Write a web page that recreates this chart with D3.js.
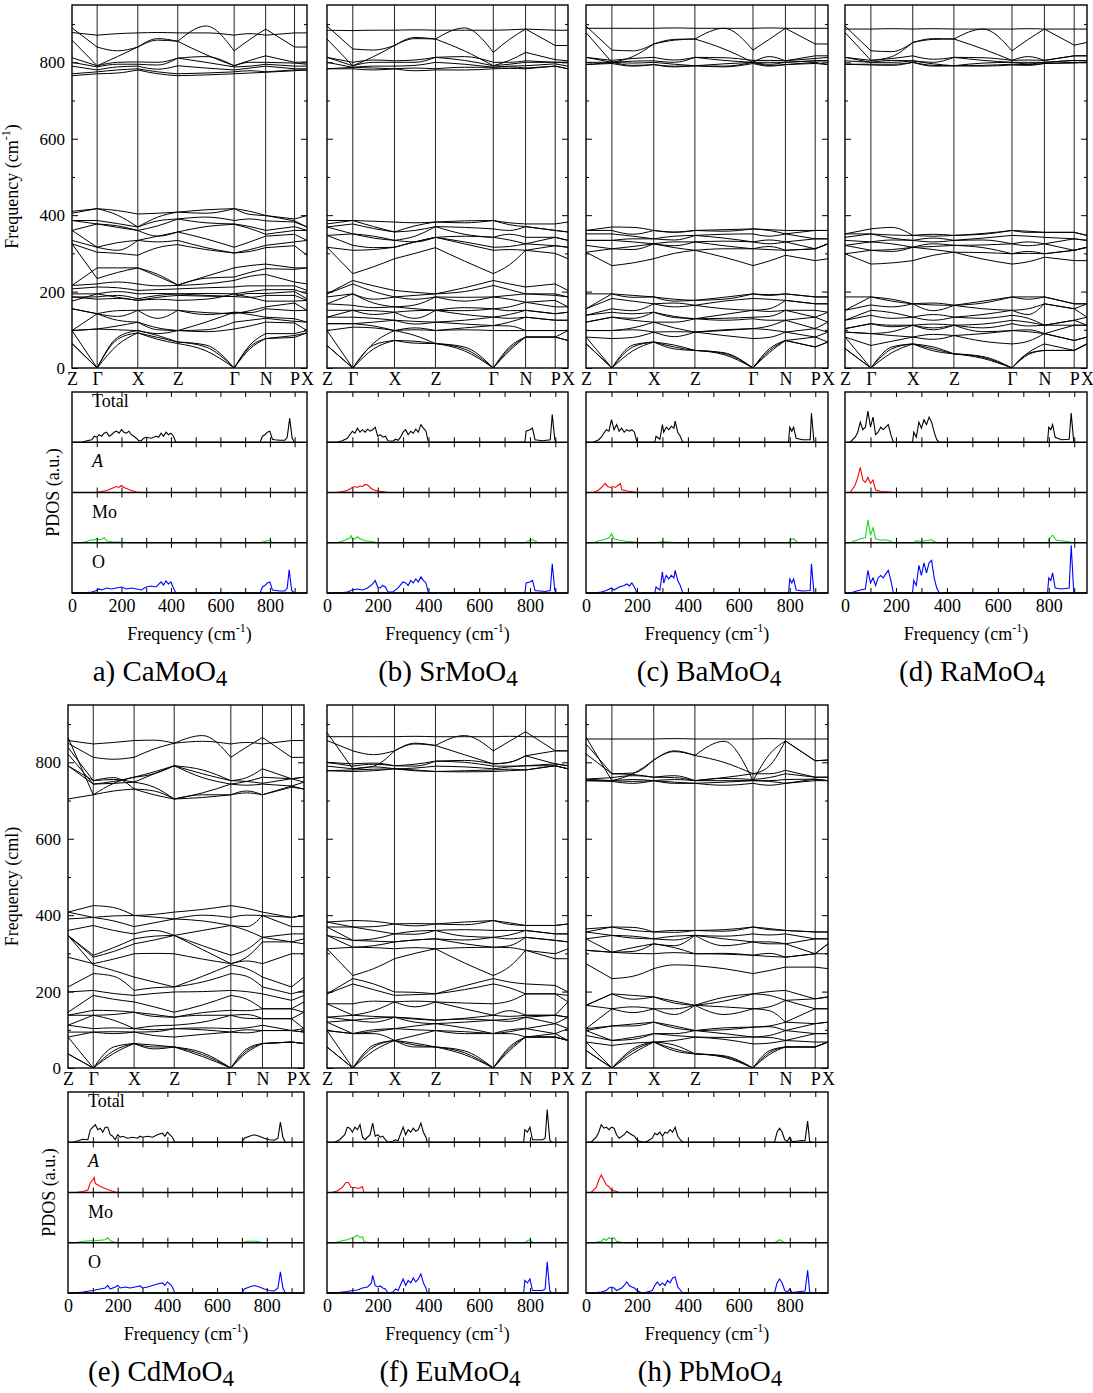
<!DOCTYPE html>
<html><head><meta charset="utf-8">
<script src="https://cdn.jsdelivr.net/npm/d3@7"></script>
<style>
body{margin:0;background:#fff}
svg{display:block}
text{font-family:"Liberation Serif","Times New Roman",serif;fill:#000}
</style>
</head><body>
<svg id="c" width="1093" height="1393"></svg>
<script>
// ---------- k-path ----------
const kLabels = ["Z","Γ","X","Z","Γ","N","P","X"];
const kTicks  = [0, 0.107, 0.28, 0.45, 0.69, 0.824, 0.947, 1];
// band values are given at: Z, Γ, mid(Γ-X), X, mid(X-Z), Z, mid(Z-Γ), Γ, mid(Γ-N), N, P, X
const kNodes  = [0, 0.107, 0.1935, 0.28, 0.365, 0.45, 0.57, 0.69, 0.757, 0.824, 0.947, 1];
const kSegments = [[0,1],[1,2,3],[3,4,5],[5,6,7],[7,8,9],[9,10],[10,11]];
const freqTicksMajor = [0,200,400,600,800];
const freqTicksMinor = [100,300,500,700,900];
const pdosTicks = [100,200,300,400,500,600,700,800,900];
const pdosTickLabels = [0,200,400,600,800];
const pdosParts = ["Total","A","Mo","O"];

// ---------- dispersion data (cm^-1) ----------
const caBands = [
 [878,871,875,877,878,877,877,871,875,871,877,877],
 [890,840,830,840,858,855,895,830,860,887,840,840],
 [858,791,815,840,862,855,820,791,805,817,800,801],
 [812,791,800,801,800,811,815,791,800,800,798,795],
 [800,788,795,795,793,811,800,788,790,795,790,790],
 [790,780,788,790,782,791,785,780,785,790,783,783],
 [770,775,780,783,775,770,772,775,778,775,780,780],
 [765,770,772,780,770,765,767,770,772,774,778,780],
 [410,417,412,403,405,408,414,417,410,399,390,399],
 [405,417,400,369,395,408,405,417,402,399,385,369],
 [386,386,378,369,385,390,395,386,390,385,382,369],
 [386,377,368,360,372,390,380,377,370,360,370,360],
 [360,377,372,360,345,356,370,376,365,350,360,360],
 [360,316,328,334,345,356,338,316,330,345,350,334],
 [334,316,308,334,330,334,315,301,310,321,330,334],
 [325,303,300,295,315,323,310,301,305,315,320,295],
 [325,234,250,262,245,217,240,262,268,272,262,262],
 [216,262,262,262,240,217,235,238,250,260,258,262],
 [216,220,225,220,215,216,220,229,240,245,225,220],
 [207,212,210,203,205,207,210,212,215,215,215,203],
 [194,194,200,194,195,194,195,194,200,205,205,194],
 [186,186,190,181,190,194,190,187,195,195,200,181],
 [186,180,182,177,185,190,188,187,185,190,190,177],
 [175,194,185,177,180,177,180,194,185,175,175,177],
 [155,142,150,151,152,151,145,142,150,160,170,151],
 [155,142,135,151,130,151,140,146,145,155,150,151],
 [98,142,125,120,105,98,120,146,140,133,129,120],
 [98,102,110,120,100,98,100,120,125,130,122,120],
 [98,102,100,98,90,98,95,102,110,120,118,98],
 [98,0,80,98,85,68,60,0,60,90,90,98],
 [64,0,75,92,80,68,55,0,55,77,85,92],
 [64,0,60,92,75,64,45,0,50,77,80,92]
];
const srBands = [
 [884,883,884,884,885,884,884,884,885,887,884,884],
 [895,835,832,844,862,861,890,826,860,887,844,844],
 [861,791,815,844,865,861,830,791,805,826,807,804],
 [813,800,806,804,806,813,815,800,800,804,800,800],
 [813,791,800,800,800,813,805,791,795,800,800,800],
 [800,787,790,790,792,800,795,787,790,791,796,790],
 [783,787,785,783,785,783,787,787,788,785,790,783],
 [783,783,780,783,778,780,780,783,784,783,790,783],
 [386,386,384,382,380,382,385,386,380,377,377,382],
 [377,386,370,356,372,382,380,386,375,370,360,356],
 [369,377,365,356,360,370,368,364,360,370,360,356],
 [369,351,345,334,345,370,350,342,350,342,342,334],
 [347,351,340,334,330,342,345,342,335,325,342,334],
 [347,321,315,316,330,342,330,316,318,325,320,316],
 [316,308,310,316,330,342,325,308,310,308,320,316],
 [316,247,265,286,300,315,280,247,270,308,300,286],
 [194,229,215,203,198,194,210,229,220,212,220,203],
 [194,220,200,186,190,194,200,216,205,194,194,186],
 [186,194,180,186,180,186,185,186,190,194,190,186],
 [168,194,170,160,165,186,175,186,180,172,177,160],
 [168,164,158,160,155,151,158,155,160,172,160,160],
 [151,151,150,146,150,151,150,155,150,151,142,146],
 [133,151,140,146,130,151,140,133,140,151,142,146],
 [133,133,130,125,122,120,125,133,130,133,125,125],
 [116,116,120,125,115,120,115,111,120,133,125,125],
 [116,116,110,98,105,98,105,111,110,98,98,98],
 [98,107,105,98,100,98,100,98,98,98,98,98],
 [98,0,65,98,85,64,55,0,55,81,81,98],
 [59,0,60,72,70,64,50,0,50,81,81,72],
 [59,0,50,72,65,64,45,0,45,81,81,72]
];
const baBands = [
 [889,889,889,889,890,889,889,889,890,889,889,889],
 [895,832,830,848,858,861,889,832,860,889,848,848],
 [878,800,815,848,860,861,835,800,815,804,817,817],
 [813,805,810,813,806,813,812,805,805,804,810,813],
 [813,800,803,804,800,813,805,800,800,800,804,804],
 [800,800,798,800,795,791,796,800,795,800,804,804],
 [794,800,792,794,790,791,790,800,792,794,800,794],
 [794,797,790,794,788,791,788,797,790,794,797,794],
 [360,369,368,360,355,360,362,364,362,360,360,360],
 [360,360,350,360,356,360,358,364,360,351,360,360],
 [351,351,345,338,345,347,350,351,345,351,338,338],
 [334,334,338,338,335,347,340,330,335,330,338,338],
 [334,334,330,325,330,330,332,330,325,330,312,325],
 [321,312,318,325,320,330,320,312,318,308,312,325],
 [303,312,310,325,315,308,312,312,310,308,312,325],
 [303,268,275,286,300,308,290,268,280,295,281,286],
 [194,194,190,186,180,177,185,194,192,194,186,186],
 [155,194,185,186,175,177,180,194,190,194,186,186],
 [155,182,175,168,170,164,175,182,180,177,168,168],
 [138,155,150,168,160,164,155,151,155,177,168,168],
 [138,146,142,146,135,129,140,151,148,151,151,146],
 [120,133,130,146,132,129,130,133,135,151,133,146],
 [120,133,125,120,120,129,125,129,125,125,133,120],
 [98,98,105,120,105,94,100,103,110,125,103,120],
 [98,98,100,94,95,94,98,103,100,94,103,94],
 [81,77,80,94,82,94,85,77,80,94,81,94],
 [81,0,60,68,60,46,40,0,50,72,81,68],
 [64,0,55,68,55,46,38,0,45,72,55,68],
 [64,0,45,68,50,46,35,0,40,72,55,68]
];
const raBands = [
 [887,887,888,887,888,887,887,887,888,887,887,887],
 [895,830,828,852,860,861,887,830,860,887,845,852],
 [878,805,815,852,862,861,835,805,815,805,817,817],
 [813,805,810,817,808,813,812,805,806,805,817,817],
 [813,800,805,804,800,813,805,800,800,800,805,804],
 [804,800,800,804,796,791,798,800,796,800,805,804],
 [795,795,795,800,792,791,792,795,794,797,800,800],
 [795,793,792,800,790,791,790,793,792,797,798,800],
 [351,364,368,347,350,347,352,360,358,355,355,347],
 [351,351,348,347,345,347,350,360,355,355,355,347],
 [342,351,340,334,340,334,340,347,345,342,338,334],
 [334,330,335,334,330,334,335,325,330,325,338,334],
 [321,330,325,316,325,321,322,325,320,325,308,316],
 [321,308,310,316,318,321,315,299,305,299,308,316],
 [299,308,305,316,310,303,302,299,300,299,308,316],
 [299,272,275,281,295,303,285,272,278,290,281,281],
 [186,186,180,168,170,164,175,186,186,186,168,168],
 [151,186,175,168,165,164,170,186,180,186,168,168],
 [151,165,160,168,150,164,155,151,155,168,155,168],
 [125,151,145,133,140,133,140,151,140,168,155,133],
 [125,138,130,133,125,133,130,138,130,112,125,133],
 [103,116,112,112,115,112,115,125,120,112,125,112],
 [103,116,108,112,105,112,105,116,110,112,112,112],
 [94,90,95,112,100,112,95,98,100,90,112,112],
 [94,90,85,81,88,85,90,98,95,90,72,81],
 [81,59,70,81,75,85,70,63,70,90,72,81],
 [81,0,55,63,55,37,30,0,40,63,46,63],
 [51,0,50,63,50,37,28,0,38,46,46,63],
 [51,0,40,63,45,37,25,0,35,46,46,63]
];
const cdBands = [
 [857,848,852,857,858,850,855,848,852,848,857,857],
 [865,715,745,761,775,791,760,743,750,761,757,761],
 [850,813,808,813,835,850,870,813,840,865,813,813],
 [839,752,755,748,770,791,780,752,760,783,757,748],
 [822,743,750,761,770,791,770,752,750,745,757,761],
 [791,752,760,730,725,704,720,743,740,743,738,730],
 [791,743,745,748,735,704,715,715,725,715,738,748],
 [704,715,725,730,715,704,708,715,720,715,735,730],
 [408,425,420,399,402,408,415,425,418,408,394,399],
 [408,394,398,399,395,390,400,394,400,399,394,399],
 [390,394,385,370,380,390,385,373,370,399,370,370],
 [360,373,360,351,360,347,360,373,360,342,351,351],
 [347,295,315,338,345,347,320,295,310,342,330,338],
 [347,290,305,325,335,347,310,273,290,330,330,325],
 [290,273,285,299,300,299,285,273,280,273,299,299],
 [347,270,255,238,225,212,240,270,260,238,212,238],
 [212,247,240,203,210,212,225,247,240,212,194,203],
 [199,203,195,190,195,199,200,203,200,194,177,190],
 [146,190,180,173,160,146,165,190,180,155,155,173],
 [138,151,150,146,140,133,145,151,150,155,155,146],
 [138,138,140,146,135,133,138,138,140,129,129,146],
 [112,138,125,103,110,112,120,138,130,129,129,103],
 [112,103,105,103,100,103,105,103,105,112,98,103],
 [94,94,95,94,95,103,100,94,100,98,98,94],
 [81,94,90,94,85,81,88,94,92,98,98,94],
 [81,0,55,64,60,55,40,0,50,64,68,64],
 [37,0,45,64,55,55,35,0,45,64,68,64],
 [37,0,38,64,50,55,30,0,40,64,68,64]
];
const euBands = [
 [867,867,867,867,868,867,867,867,868,867,867,867],
 [878,783,790,830,848,844,870,830,855,880,830,830],
 [857,830,820,830,850,844,820,796,800,817,830,830],
 [800,796,798,791,795,803,805,796,800,817,796,791],
 [800,790,795,791,790,803,800,790,790,791,796,791],
 [790,783,788,783,785,790,788,783,788,791,791,783],
 [778,780,782,783,780,776,778,780,782,780,791,783],
 [778,776,778,783,778,776,775,776,778,780,791,783],
 [382,386,384,377,378,377,382,386,380,373,373,377],
 [382,369,370,377,372,377,375,386,376,373,373,377],
 [369,369,360,351,358,360,362,360,360,360,351,351],
 [369,334,338,351,350,360,345,342,348,360,351,351],
 [347,334,332,330,335,338,335,342,338,342,334,330],
 [347,316,320,330,335,338,325,316,320,342,334,330],
 [312,316,315,312,315,312,315,316,315,308,299,312],
 [312,242,260,286,300,312,275,242,265,308,286,286],
 [194,234,220,199,198,194,215,234,225,220,216,199],
 [194,220,205,190,192,194,205,220,210,194,194,190],
 [168,168,175,173,175,173,170,168,175,194,194,173],
 [168,138,150,173,160,173,155,138,150,138,138,173],
 [133,138,135,133,130,125,130,138,135,138,138,133],
 [133,125,130,133,128,125,128,125,128,133,138,133],
 [120,125,120,133,120,116,120,125,122,133,116,133],
 [120,90,100,103,110,116,105,90,100,103,116,103],
 [98,90,95,103,100,98,95,90,95,103,90,103],
 [98,90,90,72,85,98,90,90,90,81,90,72],
 [98,0,60,72,65,55,45,0,55,81,81,72],
 [55,0,55,72,60,55,40,0,50,81,81,72],
 [55,0,45,72,55,55,35,0,45,81,81,72]
];
const pbBands = [
 [861,861,861,861,862,861,861,861,862,861,861,861],
 [866,752,770,806,830,818,855,752,820,856,804,806],
 [848,770,772,806,828,818,800,770,790,856,804,806],
 [822,770,768,761,765,752,760,770,770,779,761,761],
 [756,760,765,761,760,752,758,755,760,770,761,761],
 [756,752,755,752,755,752,752,752,752,755,756,752],
 [752,752,750,752,748,745,748,752,750,745,756,752],
 [752,750,745,752,745,745,740,745,740,745,752,752],
 [364,369,368,356,360,360,362,369,365,360,356,356],
 [356,369,360,356,355,360,358,369,362,360,356,356],
 [356,347,345,338,345,347,345,351,348,351,338,338],
 [338,347,340,338,335,347,338,330,330,325,338,338],
 [338,303,315,325,320,347,320,330,325,325,299,325],
 [308,303,305,325,315,299,300,295,300,290,299,325],
 [308,303,300,299,302,299,298,295,292,290,299,299],
 [273,234,240,260,270,268,260,247,255,264,264,260],
 [164,194,190,186,175,164,185,194,200,203,181,186],
 [164,194,180,186,170,164,175,194,190,177,181,186],
 [164,155,160,155,155,164,160,155,160,177,155,155],
 [103,155,145,155,140,164,140,155,150,120,155,155],
 [103,110,115,120,110,98,105,107,110,120,116,120],
 [98,110,110,120,105,98,100,107,108,98,116,120],
 [98,72,80,90,90,98,90,81,85,98,90,90],
 [85,72,75,90,85,81,80,81,80,72,90,90],
 [68,59,65,68,72,81,75,63,65,72,68,68],
 [68,0,50,68,60,37,32,0,45,55,55,68],
 [46,0,45,68,50,37,30,0,40,55,55,68],
 [46,0,38,68,45,37,28,0,35,55,55,68]
];

// ---------- PDOS data: [frequency (cm^-1), relative density] ----------
const caTotal = [[0,0],[40,0],[60,0.03],[80,0.05],[90,0.12],[100,0.1],[110,0.15],[120,0.12],[130,0.18],[140,0.2],[150,0.12],[160,0.15],[170,0.2],[180,0.22],[190,0.18],[200,0.25],[210,0.2],[220,0.18],[230,0.22],[240,0.15],[250,0.12],[260,0.08],[270,0.03],[280,0.03],[290,0.08],[300,0.1],[320,0.08],[340,0.12],[350,0.1],[360,0.18],[370,0.12],[380,0.2],[390,0.15],[400,0.18],[410,0.12],[420,0],[760,0],[770,0.12],[780,0.15],[790,0.2],[800,0.22],[810,0.06],[820,0.05],[840,0.04],[860,0.04],[870,0.1],[880,0.48],[890,0.08],[900,0]];
const caA = [[0,0],[100,0],[120,0.02],[140,0.04],[160,0.08],[170,0.1],[180,0.12],[190,0.1],[200,0.14],[210,0.1],[220,0.08],[240,0.04],[260,0.01],[280,0]];
const caMo = [[0,0],[40,0],[60,0.03],[80,0.06],[90,0.05],[100,0.08],[110,0.06],[120,0.07],[130,0.1],[140,0.04],[160,0.02],[200,0.01],[250,0],[760,0],[780,0.03],[790,0.04],[800,0.05],[810,0.01],[820,0]];
const caO = [[0,0],[40,0],[80,0.02],[100,0.05],[110,0.08],[120,0.06],[140,0.1],[160,0.08],[180,0.1],[200,0.12],[220,0.08],[240,0.1],[260,0.08],[280,0.06],[300,0.12],[320,0.14],[340,0.12],[360,0.22],[370,0.16],[380,0.24],[390,0.18],[400,0.22],[410,0.1],[420,0],[760,0],[770,0.12],[780,0.15],[790,0.2],[800,0.22],[810,0.06],[840,0.04],[860,0.04],[870,0.1],[878,0.46],[888,0.05],[900,0]];

const srTotal = [[0,0],[40,0],[60,0.03],[80,0.08],[90,0.15],[100,0.22],[110,0.18],[120,0.28],[130,0.2],[140,0.25],[150,0.2],[160,0.26],[170,0.22],[180,0.25],[190,0.3],[200,0.12],[210,0.15],[220,0.1],[230,0.12],[240,0.03],[260,0.02],[270,0.06],[280,0.04],[290,0.1],[300,0.2],[310,0.25],[320,0.15],[330,0.22],[340,0.18],[350,0.26],[360,0.2],[370,0.35],[380,0.28],[390,0.22],[400,0],[780,0],[785,0.22],[800,0.25],[810,0.28],[820,0.05],[850,0.03],[880,0.05],[888,0.55],[898,0.05],[905,0]];
const srA = [[0,0],[40,0],[80,0.04],[100,0.1],[110,0.12],[120,0.1],[130,0.13],[140,0.12],[150,0.16],[160,0.15],[170,0.1],[180,0.06],[200,0.03],[230,0.01],[240,0]];
const srMo = [[0,0],[40,0],[70,0.05],[90,0.1],[95,0.14],[100,0.07],[110,0.08],[120,0.12],[130,0.08],[150,0.04],[180,0.02],[200,0],[780,0],[800,0.05],[810,0.06],[830,0.01],[840,0]];
const srO = [[0,0],[40,0],[80,0.02],[100,0.06],[120,0.08],[140,0.06],[160,0.1],[180,0.18],[190,0.25],[200,0.12],[210,0.1],[220,0.15],[230,0.12],[240,0.02],[260,0.02],[280,0.1],[300,0.22],[310,0.2],[320,0.15],[330,0.25],[340,0.2],[350,0.28],[360,0.22],[370,0.32],[380,0.25],[390,0.2],[400,0],[780,0],[785,0.2],[800,0.22],[810,0.25],[820,0.05],[860,0.03],[880,0.05],[888,0.58],[898,0.05],[905,0]];

const baTotal = [[0,0],[30,0],[50,0.05],[60,0.1],[70,0.18],[80,0.25],[90,0.22],[100,0.45],[110,0.25],[120,0.35],[130,0.22],[140,0.28],[150,0.2],[160,0.25],[170,0.22],[180,0.25],[190,0.2],[200,0],[270,0],[275,0.12],[290,0.06],[300,0.35],[305,0.2],[315,0.3],[325,0.25],[335,0.32],[345,0.28],[350,0.42],[360,0.2],[370,0.12],[380,0],[795,0],[800,0.3],[808,0.22],[815,0.3],[825,0.08],[850,0.05],[880,0.05],[885,0.58],[895,0]];
const baA = [[0,0],[30,0],[50,0.05],[65,0.12],[75,0.18],[85,0.12],[95,0.1],[105,0.12],[115,0.1],[125,0.14],[135,0.18],[140,0.06],[160,0.03],[190,0.01],[200,0]];
const baMo = [[0,0],[30,0],[50,0.04],[70,0.06],[90,0.1],[100,0.18],[110,0.08],[130,0.05],[160,0.03],[200,0.01],[210,0],[270,0],[300,0.02],[360,0],[795,0],[805,0.06],[815,0.08],[830,0.01],[840,0]];
const baO = [[0,0],[30,0],[60,0.02],[80,0.05],[100,0.1],[110,0.06],[130,0.12],[150,0.15],[160,0.18],[170,0.14],[180,0.2],[190,0.12],[200,0],[270,0],[275,0.12],[290,0.06],[300,0.42],[305,0.2],[315,0.35],[325,0.28],[335,0.35],[345,0.3],[350,0.45],[360,0.25],[370,0.15],[380,0],[795,0],[800,0.28],[808,0.2],[815,0.28],[825,0.06],[850,0.04],[880,0.05],[885,0.58],[895,0]];

const raTotal = [[0,0],[20,0],[40,0.1],[50,0.2],[60,0.4],[70,0.25],[80,0.3],[90,0.62],[100,0.3],[110,0.5],[120,0.15],[130,0.2],[140,0.3],[150,0.25],[160,0.3],[170,0.35],[180,0.15],[190,0],[265,0],[270,0.2],[280,0.1],[290,0.4],[300,0.28],[310,0.45],[320,0.35],[330,0.5],[340,0.4],[350,0.2],[360,0.05],[370,0],[795,0],[800,0.3],[808,0.25],[815,0.35],[825,0.1],[850,0.05],[880,0.06],[888,0.58],[898,0]];
const raA = [[0,0],[20,0],[40,0.15],[50,0.3],[60,0.5],[70,0.25],[80,0.2],[90,0.3],[100,0.18],[110,0.25],[120,0.05],[140,0.02],[180,0.01],[190,0]];
const raMo = [[0,0],[20,0],[40,0.04],[60,0.08],[80,0.1],[90,0.45],[100,0.15],[110,0.3],[120,0.08],[140,0.05],[160,0.06],[180,0.03],[190,0],[270,0],[280,0.04],[300,0.03],[340,0.06],[360,0],[795,0],[805,0.1],[815,0.15],[830,0.05],[880,0.02],[890,0]];
const raO = [[0,0],[20,0],[40,0.03],[60,0.06],[80,0.08],[90,0.45],[100,0.2],[110,0.3],[120,0.15],[130,0.3],[140,0.35],[150,0.3],[160,0.38],[170,0.45],[180,0.25],[190,0],[265,0],[270,0.25],[280,0.15],[290,0.55],[300,0.35],[310,0.6],[320,0.4],[330,0.6],[340,0.65],[350,0.3],[360,0.1],[370,0],[795,0],[800,0.3],[808,0.25],[815,0.4],[825,0.1],[850,0.08],[880,0.1],[888,0.95],[898,0]];

const cdTotal = [[0,0],[20,0],[40,0.03],[60,0.06],[80,0.05],[90,0.25],[100,0.3],[110,0.35],[120,0.25],[130,0.28],[140,0.2],[150,0.3],[160,0.3],[170,0.15],[180,0.12],[190,0.05],[200,0.15],[210,0.1],[220,0.12],[240,0.08],[260,0.1],[280,0.08],[290,0.12],[300,0.1],[320,0.12],[340,0.1],[360,0.15],[380,0.18],[390,0.12],[400,0.2],[410,0.15],[420,0.1],[430,0],[700,0],[710,0.08],[730,0.12],[750,0.15],[770,0.12],[790,0.08],[810,0.05],[830,0.04],[845,0.08],[855,0.4],[865,0.1],[875,0]];
const cdA = [[0,0],[30,0],[60,0.02],[80,0.05],[90,0.2],[100,0.25],[105,0.3],[110,0.18],[130,0.12],[150,0.08],[170,0.04],[190,0.01],[200,0]];
const cdMo = [[0,0],[30,0],[60,0.03],[90,0.04],[110,0.04],[130,0.05],[150,0.06],[160,0.1],[170,0.04],[190,0.01],[200,0],[700,0],[720,0.03],[760,0.03],[780,0.01],[790,0]];
const cdO = [[0,0],[20,0],[60,0.02],[100,0.05],[130,0.08],[150,0.1],[160,0.15],[170,0.08],[190,0.12],[200,0.15],[210,0.1],[230,0.12],[250,0.1],[270,0.12],[290,0.14],[300,0.1],[320,0.12],[340,0.15],[360,0.18],[380,0.2],[390,0.15],[400,0.22],[410,0.18],[420,0.12],[430,0],[700,0],[710,0.08],[730,0.12],[750,0.15],[770,0.12],[790,0.08],[810,0.05],[830,0.04],[845,0.1],[855,0.42],[865,0.1],[875,0]];

const euTotal = [[0,0],[30,0],[50,0.05],[70,0.15],[80,0.3],[90,0.28],[100,0.2],[110,0.3],[120,0.25],[130,0.35],[140,0.1],[150,0.05],[170,0.15],[180,0.38],[190,0.12],[200,0.15],[210,0.1],[220,0.12],[230,0.05],[240,0],[260,0.02],[270,0.05],[280,0.03],[300,0.3],[310,0.15],[320,0.25],[330,0.2],[340,0.28],[350,0.22],[360,0.25],[370,0.38],[380,0.2],[390,0.1],[395,0],[775,0],[780,0.25],[790,0.2],[800,0.3],[810,0.05],[850,0.05],[860,0.08],[868,0.65],[878,0.05],[885,0]];
const euA = [[0,0],[20,0],[40,0.03],[60,0.1],[75,0.2],[85,0.2],[95,0.1],[110,0.1],[125,0.08],[140,0.12],[145,0],[160,0]];
const euMo = [[0,0],[30,0],[60,0.04],[80,0.06],[100,0.1],[110,0.12],[120,0.15],[130,0.1],[140,0.12],[145,0.02],[160,0.01],[180,0],[780,0],[790,0.04],[800,0.06],[810,0.01],[820,0]];
const euO = [[0,0],[30,0],[80,0.03],[100,0.05],[120,0.06],[140,0.1],[160,0.12],[175,0.2],[180,0.35],[190,0.15],[200,0.12],[210,0.14],[220,0.1],[230,0.08],[240,0],[260,0.02],[270,0.08],[280,0.05],[300,0.28],[310,0.15],[320,0.25],[330,0.2],[340,0.3],[350,0.22],[360,0.28],[370,0.38],[380,0.2],[390,0.1],[395,0],[775,0],[780,0.25],[790,0.2],[800,0.28],[810,0.05],[850,0.05],[860,0.08],[868,0.62],[878,0.05],[885,0]];

const pbTotal = [[0,0],[20,0],[40,0.1],[50,0.2],[60,0.35],[70,0.28],[80,0.3],[90,0.25],[100,0.3],[110,0.28],[120,0.15],[130,0.08],[150,0.15],[160,0.22],[170,0.18],[180,0.15],[190,0.12],[200,0.05],[210,0.02],[230,0],[240,0.02],[250,0.05],[260,0.08],[270,0.18],[280,0.15],[290,0.2],[300,0.12],[310,0.2],[320,0.18],[330,0.25],[340,0.2],[350,0.3],[360,0.12],[370,0.05],[380,0],[740,0],[750,0.2],[760,0.28],[770,0.2],[780,0.05],[790,0.02],[800,0.1],[810,0.01],[840,0.03],[860,0.04],[870,0.42],[878,0.02],[885,0]];
const pbA = [[0,0],[20,0],[40,0.1],[50,0.25],[60,0.35],[70,0.25],[80,0.15],[90,0.12],[100,0.05],[120,0.02],[130,0]];
const pbMo = [[0,0],[30,0],[60,0.03],[70,0.08],[80,0.05],[90,0.1],[100,0.08],[110,0.1],[120,0.03],[140,0.01],[160,0],[740,0],[750,0.03],[760,0.06],[770,0.03],[780,0]];
const pbO = [[0,0],[20,0],[60,0.02],[80,0.05],[90,0.1],[100,0.12],[110,0.1],[120,0.05],[140,0.1],[150,0.15],[160,0.22],[170,0.15],[180,0.12],[190,0.1],[200,0.05],[220,0],[240,0.02],[260,0.05],[270,0.15],[280,0.22],[290,0.15],[300,0.2],[310,0.15],[320,0.25],[330,0.2],[340,0.3],[350,0.32],[360,0.12],[370,0.06],[380,0],[740,0],[750,0.2],[760,0.28],[770,0.2],[780,0.05],[790,0.02],[800,0.08],[810,0.01],[840,0.03],[860,0.04],[870,0.45],[878,0.02],[885,0]];

// ---------- captions ----------
const captionPre = ["a) CaMoO","(b) SrMoO","(c) BaMoO","(d) RaMoO","(e) CdMoO","(f) EuMoO","(h) PbMoO"];

// ---------- layout ----------
const pdosColors = ["#000000","#ff0000","#16d916","#0000ff"];
const panels = [
 {bands:caBands, pdos:[caTotal,caA,caMo,caO], cap:captionPre[0], x0:72,  x1:307,  row:0, capX:160, left:true,  yLab:"Frequency (cm"},
 {bands:srBands, pdos:[srTotal,srA,srMo,srO], cap:captionPre[1], x0:327, x1:568,  row:0, capX:448},
 {bands:baBands, pdos:[baTotal,baA,baMo,baO], cap:captionPre[2], x0:586, x1:828,  row:0, capX:709},
 {bands:raBands, pdos:[raTotal,raA,raMo,raO], cap:captionPre[3], x0:845, x1:1087, row:0, capX:972},
 {bands:cdBands, pdos:[cdTotal,cdA,cdMo,cdO], cap:captionPre[4], x0:68,  x1:304,  row:1, capX:161, left:true, yLab:"Frequency (cml)"},
 {bands:euBands, pdos:[euTotal,euA,euMo,euO], cap:captionPre[5], x0:327, x1:568,  row:1, capX:450},
 {bands:pbBands, pdos:[pbTotal,pbA,pbMo,pbO], cap:captionPre[6], x0:586, x1:828,  row:1, capX:710}
];

const svg = d3.select("#c");
const defs = svg.append("defs");

panels.forEach((p, pi) => {
  const dy = p.row * 700;
  const top = 5 + dy, bottom = 368 + dy;
  const pTop = 392 + dy, pBottom = 593 + dy;
  const g = svg.append("g");

  // ---- dispersion ----
  const x = d3.scaleLinear().domain([0,1]).range([p.x0, p.x1]);
  const y = d3.scaleLinear().domain([0,950]).range([bottom, top]);
  const cid = "clip"+pi;
  defs.append("clipPath").attr("id",cid).append("rect")
    .attr("x",p.x0).attr("y",top).attr("width",p.x1-p.x0).attr("height",bottom-top);

  g.append("g").selectAll("line").data(kTicks.slice(1,-1)).join("line")
    .attr("x1",d=>x(d)).attr("x2",d=>x(d)).attr("y1",top).attr("y2",bottom)
    .attr("stroke","#222").attr("stroke-width",1);

  const line = d3.line().x(d=>x(d[0])).y(d=>y(d[1])).curve(d3.curveMonotoneX);
  g.append("g").attr("clip-path",`url(#${cid})`).selectAll("path").data(p.bands).join("path")
    .attr("d", b => kSegments.map(seg => line(seg.map(i => [kNodes[i], b[i]]))).join(""))
    .attr("fill","none").attr("stroke","#000").attr("stroke-width",1);

  const axL = g.append("g").attr("transform",`translate(${p.x0},0)`)
    .call(d3.axisLeft(y).tickValues(freqTicksMajor).tickSize(-6).tickPadding(7)
      .tickFormat(p.left ? d3.format("d") : ""));
  axL.append("g").call(d3.axisLeft(y).tickValues(freqTicksMinor).tickSize(-3).tickFormat(""));
  const axR = g.append("g").attr("transform",`translate(${p.x1},0)`)
    .call(d3.axisRight(y).tickValues(freqTicksMajor).tickSize(-6).tickFormat(""));
  axR.append("g").call(d3.axisRight(y).tickValues(freqTicksMinor).tickSize(-3).tickFormat(""));
  [axL,axR].forEach(a => {
    a.selectAll(".domain").remove();
    a.selectAll("line").attr("stroke","#000");
    a.selectAll("text").attr("font-size",17).attr("font-family","Liberation Serif");
  });

  const axK = g.append("g").attr("transform",`translate(0,${bottom})`)
    .call(d3.axisBottom(x).tickValues(kTicks).tickSize(0).tickPadding(4).tickFormat((d,i)=>kLabels[i]));
  axK.selectAll(".domain").remove();
  axK.selectAll("text").attr("font-size",18).attr("font-family","Liberation Serif");

  g.append("rect").attr("x",p.x0).attr("y",top).attr("width",p.x1-p.x0).attr("height",bottom-top)
    .attr("fill","none").attr("stroke","#000").attr("stroke-width",1.4);

  if (p.left) {
    const t = g.append("text").attr("transform",`translate(18,${(top+bottom)/2}) rotate(-90)`)
      .attr("text-anchor","middle").attr("font-size",18);
    if (p.row === 0) {
      t.append("tspan").text("Frequency (cm");
      t.append("tspan").attr("font-size",12).attr("dy",-8).text("-1");
      t.append("tspan").attr("dy",8).text(")");
    } else {
      t.text(p.yLab);
    }
  }

  // ---- PDOS ----
  const xp = d3.scaleLinear().domain([0,950]).range([p.x0, p.x1]);
  const h = (pBottom - pTop) / 4;
  p.pdos.forEach((series, si) => {
    const st = pTop + si*h, sb = st + h;
    const ys = d3.scaleLinear().domain([0,1]).range([sb, st]);
    const pl = d3.line().x(d=>xp(d[0])).y(d=>ys(d[1]));
    g.append("path").attr("d", pl(series)).attr("fill","none")
      .attr("stroke", pdosColors[si]).attr("stroke-width",1.1);
    const at = g.append("g").attr("transform",`translate(0,${st})`)
      .call(d3.axisTop(xp).tickValues(pdosTicks).tickSize(-5).tickFormat(""));
    const ab = g.append("g").attr("transform",`translate(0,${sb})`)
      .call(d3.axisBottom(xp).tickValues(pdosTicks).tickSize(-5).tickFormat(""));
    [at,ab].forEach(a => { a.selectAll(".domain").remove(); a.selectAll("line").attr("stroke","#000"); });
    g.append("line").attr("x1",p.x0).attr("x2",p.x1).attr("y1",sb).attr("y2",sb)
      .attr("stroke","#000").attr("stroke-width",1.6);
    if (p.left) {
      const lab = g.append("text").attr("x",p.x0+20).attr("y", st + (si===0?15:25))
        .attr("font-size",18).text(pdosParts[si]);
      if (si===1) lab.attr("font-style","italic");
    }
  });
  g.append("rect").attr("x",p.x0).attr("y",pTop).attr("width",p.x1-p.x0).attr("height",pBottom-pTop)
    .attr("fill","none").attr("stroke","#000").attr("stroke-width",1.4);

  const axP = g.append("g").attr("transform",`translate(0,${pBottom})`)
    .call(d3.axisBottom(xp).tickValues(pdosTickLabels).tickSize(0).tickPadding(6).tickFormat(d3.format("d")));
  axP.selectAll(".domain").remove();
  axP.selectAll("text").attr("font-size",18).attr("font-family","Liberation Serif");

  const xl = g.append("text").attr("x",(p.x0+p.x1)/2).attr("y",pBottom+47)
    .attr("text-anchor","middle").attr("font-size",18);
  xl.append("tspan").text("Frequency (cm");
  xl.append("tspan").attr("font-size",12).attr("dy",-8).text("-1");
  xl.append("tspan").attr("dy",8).text(")");

  if (p.left) {
    g.append("text").attr("transform",`translate(${p.x0-13},${(pTop+pBottom)/2}) rotate(-90)`)
      .attr("text-anchor","middle").attr("font-size",18).text("PDOS (a.u.)");
  }

  const cap = g.append("text").attr("x",p.capX).attr("y",pBottom+88)
    .attr("text-anchor","middle").attr("font-size",29);
  cap.append("tspan").text(p.cap);
  cap.append("tspan").attr("font-size",23).attr("dy",5).text("4");
});
</script>
</body></html>
